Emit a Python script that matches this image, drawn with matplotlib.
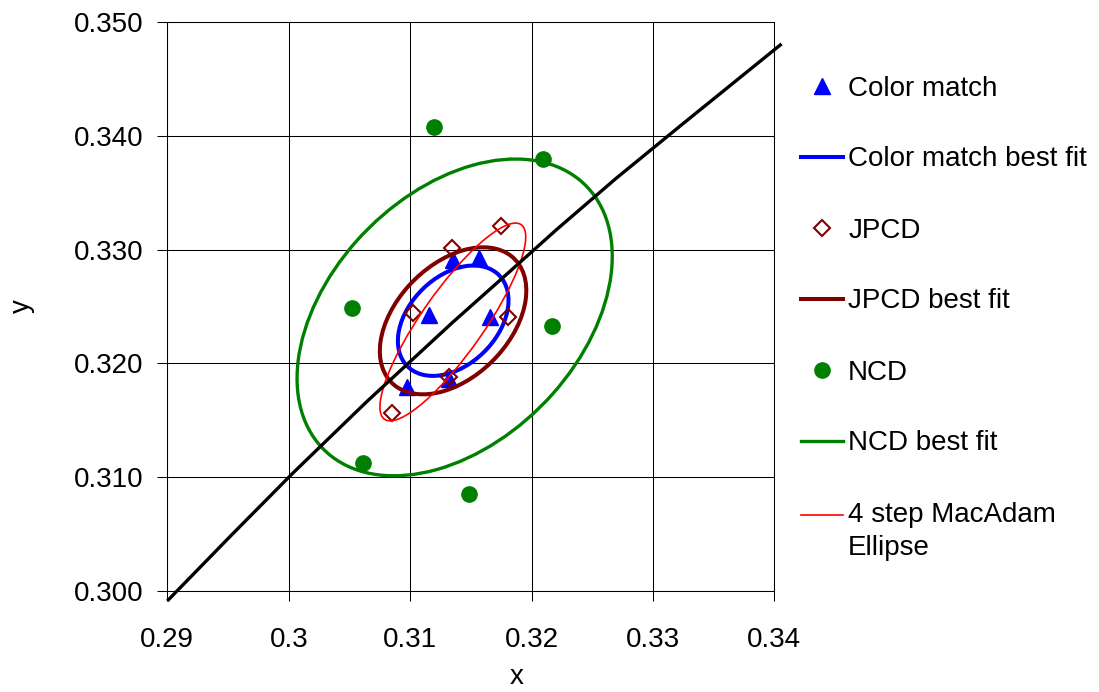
import numpy as np
import matplotlib
matplotlib.use("Agg")
import matplotlib.pyplot as plt
from matplotlib.patches import Ellipse
from matplotlib.lines import Line2D

plt.rcParams['font.family'] = ['Liberation Sans', 'DejaVu Sans']

# ---------------- data ----------------
xtick_vals = [0.29, 0.30, 0.31, 0.32, 0.33, 0.34]
xtick_labels = ["0.29", "0.3", "0.31", "0.32", "0.33", "0.34"]
ytick_vals = [0.300, 0.310, 0.320, 0.330, 0.340, 0.350]
ytick_labels = ["0.300", "0.310", "0.320", "0.330", "0.340", "0.350"]

# Color match points
cm_x = [0.30972, 0.31158, 0.31356, 0.31568, 0.31658, 0.31320]
cm_y = [0.31789, 0.32425, 0.32909, 0.32929, 0.32405, 0.31860]

# JPCD points
jp_x = [0.30853, 0.31021, 0.31343, 0.31746, 0.31804, 0.31320]
jp_y = [0.31560, 0.32440, 0.33012, 0.33208, 0.32405, 0.31882]

# NCD points
ncd_x = [0.30521, 0.31197, 0.32097, 0.32167, 0.30610, 0.31486]
ncd_y = [0.32484, 0.34079, 0.33795, 0.32329, 0.31126, 0.30848]

# Ellipses: centre x, centre y, semi-major, semi-minor, angle (deg)
cm_ell = (0.31355, 0.32375, 0.005515, 0.00373, 49.9)
jp_ell = (0.31354, 0.32374, 0.007443, 0.004778, 49.8)
ncd_ell = (0.31367, 0.32404, 0.01588, 0.01051, 50.2)
mac_ell = (0.31352, 0.32364, 0.010245, 0.002606, 56.9)

# Black locus line
loc_x = [0.2900, 0.2952, 0.3003, 0.3064, 0.3135, 0.3175, 0.3221, 0.3270, 0.3325, 0.3406]
loc_y = [0.2991, 0.3048, 0.3103, 0.3166, 0.3236, 0.3274, 0.3318, 0.3363, 0.3411, 0.3481]

labels = ["Color match", "Color match best fit", "JPCD", "JPCD best fit",
          "NCD", "NCD best fit", "4 step MacAdam\nEllipse"]

BLUE = "#0000FF"
DRED = "#800000"
GREEN = "#008000"
RED = "#FF0000"

# ---------------- figure ----------------
W, H = 1099, 692
fig = plt.figure(figsize=(W / 100, H / 100), dpi=100)
L, R, T, B = 167.3, 774.3, 22.3, 590.7
ax = fig.add_axes([L / W, 1 - B / H, (R - L) / W, (B - T) / H])
ax.set_xlim(0.29, 0.34)
ax.set_ylim(0.300, 0.350)
ax.set_xticks(xtick_vals)
ax.set_xticklabels(xtick_labels)
ax.set_yticks(ytick_vals)
ax.set_yticklabels(ytick_labels)
ax.grid(True, color="black", lw=0.75)
ax.set_axisbelow(True)
for s in ax.spines.values():
    s.set_color("black")
    s.set_linewidth(0.75)
ax.tick_params(direction="out", length=6.9, width=0.75, labelsize=20, colors="black")
ax.tick_params(axis="x", pad=19)
ax.tick_params(axis="y", pad=10.4)

ax.set_xlabel("x", fontsize=20)
ax.set_ylabel("y", fontsize=20)
ax.xaxis.set_label_coords(0.5756, -0.129)
ax.yaxis.set_label_coords(-0.218, 0.5)


def add_ell(p, color, lw, z):
    e = Ellipse((p[0], p[1]), 2 * p[2], 2 * p[3], angle=p[4], fill=False,
                edgecolor=color, linewidth=lw, zorder=z)
    ax.add_patch(e)


h_cm, = ax.plot(cm_x, cm_y, linestyle="none", marker="^", ms=11.5,
                color=BLUE, mec=BLUE, zorder=3)
add_ell(cm_ell, BLUE, 2.9, 4)
h_jp, = ax.plot(jp_x, jp_y, linestyle="none", marker="D", ms=8.6,
                mfc="none", mec=DRED, mew=1.5, zorder=5)
add_ell(jp_ell, DRED, 2.9, 6)
h_ncd, = ax.plot(ncd_x, ncd_y, linestyle="none", marker="o", ms=11,
                 color=GREEN, mec=GREEN, zorder=7)
add_ell(ncd_ell, GREEN, 2.4, 8)
add_ell(mac_ell, RED, 1.2, 9)
ax.plot(loc_x, loc_y, color="black", lw=2.4, zorder=10, clip_on=False,
        solid_capstyle="butt", solid_joinstyle="round")

handles = [h_cm,
           Line2D([], [], color=BLUE, lw=2.9),
           h_jp,
           Line2D([], [], color=DRED, lw=2.9),
           h_ncd,
           Line2D([], [], color=GREEN, lw=2.4),
           Line2D([], [], color=RED, lw=1.2)]

leg = ax.legend(handles, labels, loc="upper left",
                bbox_to_anchor=(800.7 / W, 1 - 75.5 / H),
                bbox_transform=fig.transFigure, frameon=False, fontsize=20,
                handlelength=1.51, handletextpad=0.2, labelspacing=1.62,
                borderpad=0, borderaxespad=0, numpoints=1)
leg.get_texts()[-1].set_linespacing(1.39)
lh = leg.legend_handles[-1]
lh.set_ydata(np.asarray(lh.get_ydata()) + 12.2)

fig.savefig("out.png", dpi=100)
